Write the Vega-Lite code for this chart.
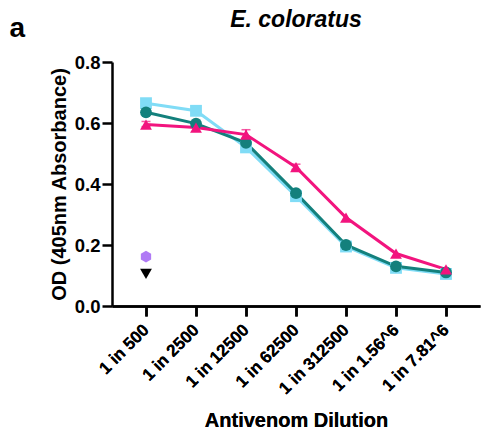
{
  "$schema": "https://vega.github.io/schema/vega-lite/v6.json",
  "autosize": "none",
  "width": 368,
  "height": 244,
  "padding": {"left": 112, "top": 62, "right": 3, "bottom": 130},
  "background": "white",
  "config": {
    "font": "Liberation Sans",
    "view": {"stroke": null},
    "axis": {"grid": false, "domainColor": "black", "domainWidth": 2.5, "tickColor": "black", "tickWidth": 2.5, "tickSize": 10, "labelColor": "black", "titleColor": "black", "labelFont": "Liberation Sans", "titleFont": "Liberation Sans", "labelFontWeight": "bold", "titleFontWeight": "bold"}
  },
  "title": {"text": "E. coloratus", "fontSize": 23, "fontWeight": "bold", "fontStyle": "italic", "font": "Liberation Sans", "anchor": "middle", "offset": -18, "color": "black"},
  "data": {"values": [
    {"dilution": "1 in 500", "series": "A", "od": 0.665},
    {"dilution": "1 in 2500", "series": "A", "od": 0.64},
    {"dilution": "1 in 12500", "series": "A", "od": 0.52},
    {"dilution": "1 in 62500", "series": "A", "od": 0.36},
    {"dilution": "1 in 312500", "series": "A", "od": 0.195},
    {"dilution": "1 in 1.56^6", "series": "A", "od": 0.125},
    {"dilution": "1 in 7.81^6", "series": "A", "od": 0.105},
    {"dilution": "1 in 500", "series": "B", "od": 0.635},
    {"dilution": "1 in 2500", "series": "B", "od": 0.598},
    {"dilution": "1 in 12500", "series": "B", "od": 0.535},
    {"dilution": "1 in 62500", "series": "B", "od": 0.37, "lo": 0.362, "hi": 0.378},
    {"dilution": "1 in 312500", "series": "B", "od": 0.2},
    {"dilution": "1 in 1.56^6", "series": "B", "od": 0.13},
    {"dilution": "1 in 7.81^6", "series": "B", "od": 0.11},
    {"dilution": "1 in 500", "series": "C", "od": 0.595, "lo": 0.588, "hi": 0.605},
    {"dilution": "1 in 2500", "series": "C", "od": 0.585},
    {"dilution": "1 in 12500", "series": "C", "od": 0.562, "lo": 0.55, "hi": 0.578},
    {"dilution": "1 in 62500", "series": "C", "od": 0.455, "lo": 0.448, "hi": 0.465},
    {"dilution": "1 in 312500", "series": "C", "od": 0.29},
    {"dilution": "1 in 1.56^6", "series": "C", "od": 0.172},
    {"dilution": "1 in 7.81^6", "series": "C", "od": 0.12},
    {"dilution": "1 in 500", "series": "D", "od": 0.162},
    {"dilution": "1 in 500", "series": "E", "od": 0.105}
  ]},
  "encoding": {
    "x": {"field": "dilution", "type": "ordinal",
      "sort": ["1 in 500", "1 in 2500", "1 in 12500", "1 in 62500", "1 in 312500", "1 in 1.56^6", "1 in 7.81^6"],
      "scale": {"type": "point", "padding": 0.68},
      "axis": {"labelAngle": -45, "labelAlign": "right", "labelBaseline": "middle", "labelFontSize": 17, "labelPadding": 11, "title": "Antivenom Dilution", "titleFontSize": 20, "titlePadding": 14}},
    "y": {"field": "od", "type": "quantitative",
      "scale": {"domain": [0, 0.8], "nice": false},
      "axis": {"values": [0, 0.2, 0.4, 0.6, 0.8], "format": ".1f", "labelFontSize": 18.5, "labelPadding": 2, "title": "OD (405nm Absorbance)", "titleFontSize": 20, "titlePadding": 5}},
    "color": {"field": "series", "type": "nominal", "legend": null,
      "scale": {"domain": ["A", "B", "C", "D", "E"], "range": ["#80dcf6", "#13807c", "#f2147e", "#b07af5", "#000000"]}}
  },
  "resolve": {"axis": {"x": "independent"}},
  "layer": [
    {"transform": [{"filter": "datum.series == 'A' || datum.series == 'B' || datum.series == 'C'"}],
     "mark": {"type": "line", "strokeWidth": 3},
     "encoding": {"detail": {"field": "series"},
       "x": {"field": "dilution", "type": "ordinal",
         "sort": ["1 in 500", "1 in 2500", "1 in 12500", "1 in 62500", "1 in 312500", "1 in 1.56^6", "1 in 7.81^6"],
         "scale": {"type": "point", "padding": 0.68},
         "axis": {"orient": "top", "domain": false, "ticks": false, "labels": false, "title": "a", "titleFontSize": 28, "titleAnchor": "start", "titleAlign": "left", "titleBaseline": "alphabetic", "titleX": -103, "titleY": -26}}}},
    {"transform": [{"filter": "isValid(datum.lo)"}],
     "mark": {"type": "errorbar", "ticks": {"size": 9}, "thickness": 1.5},
     "encoding": {"y": {"field": "lo", "type": "quantitative"}, "y2": {"field": "hi"}}},
    {"mark": {"type": "point", "filled": true, "opacity": 1, "size": 140},
     "encoding": {"shape": {"field": "series", "type": "nominal", "legend": null,
       "scale": {"domain": ["A", "B", "C", "D", "E"], "range": ["square", "circle", "triangle-up", "M0,-1L0.87,-0.5L0.87,0.5L0,1L-0.87,0.5L-0.87,-0.5Z", "triangle-down"]}}}}
  ]
}
